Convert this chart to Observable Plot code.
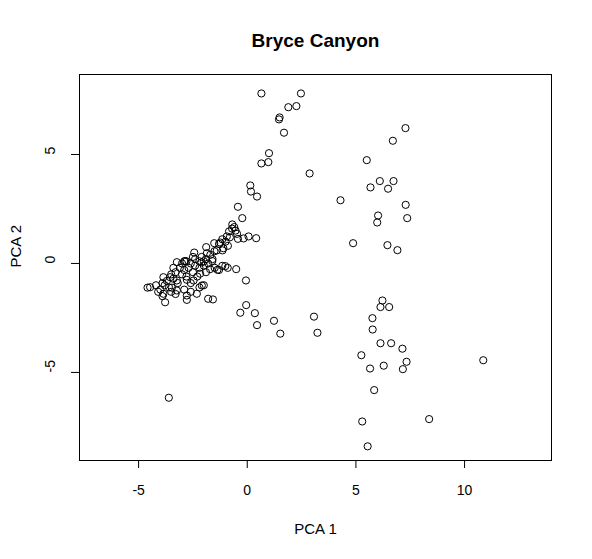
<!DOCTYPE html>
<html>
<head>
<meta charset="utf-8">
<script src="https://cdn.jsdelivr.net/npm/d3@7"></script>
<script src="https://cdn.jsdelivr.net/npm/@observablehq/plot@0.6"></script>
<style>
  html, body { margin: 0; padding: 0; background: #fff; }
  svg { font-family: "Liberation Sans", Arial, Helvetica, sans-serif; }
</style>
</head>
<body>
<div id="chart"></div>
<script>
const title = "Bryce Canyon";
const xLabel = "PCA 1";
const yLabel = "PCA 2";
const xTicks = [-5, 0, 5, 10];
const yTicks = [-5, 0, 5];
const xDomain = [-7.72, 14.0];
const yDomain = [-9.04, 8.67];

// PCA 1 scores
const pca1 = [
  // upper arm
  0.65, 2.47, 1.89, 2.26, 1.49, 1.46, 1.69, 1.00, 0.97, 0.65, 2.87, 0.14, 0.17, 0.45, -0.23, -0.43,
  // right upper group
  7.28, 6.70, 5.50, 5.67, 6.10, 6.73, 6.48, 4.29, 7.29, 6.02, 5.98, 7.36, 4.87, 6.45, 6.91,
  // lower middle
  -0.06, -0.05, -0.32, 0.35, 0.45, 1.23, 1.52, 3.07, 3.23,
  // right lower group
  6.22, 6.13, 6.53, 5.76, 5.77, 6.13, 6.62, 7.14, 5.25, 7.33, 6.28, 5.65, 7.16, 10.86, 5.84, 5.29, 8.37, 5.54, -3.61,
  // main band (edges)
  -0.69, -0.60, -0.54, -0.47, -0.84, -0.94, 0.06, 0.41, -0.17, -0.43, -1.15, -1.24, -1.52, -0.89, -1.14, -1.51,
  -1.89, -1.86, -2.44, -2.11, -1.61, -3.24, -2.86, -1.15, -1.01, -1.37, -0.51, -1.71, -2.17, -2.47, -2.78, -3.24,
  -3.55, -3.86, -4.47, -4.59, -3.86, -3.47, -3.24, -2.78, -2.32, -2.09, -1.80, -1.58, -3.78, -2.78,
  // main band (dense interior)
  -4.2, -4.0, -3.9, -3.8, -3.7, -3.6, -3.5, -3.4, -3.3, -3.2, -3.1, -3.0, -3.0, -2.9, -2.8, -2.8, -2.7, -2.6,
  -2.6, -2.5, -2.4, -2.4, -2.3, -2.2, -2.2, -2.1, -2.0, -2.0, -1.9, -1.8, -1.7, -1.6, -1.4, -1.3, -1.0, -0.8,
  -0.7, -1.1, -3.5, -3.3, -4.1, -3.9, -2.9, -2.6, -2.2, -2.0, -1.9, -1.3, -0.9, -3.4, -2.9, -2.5, -1.5
];
// PCA 2 scores
const pca2 = [
  7.80, 7.80, 7.17, 7.22, 6.70, 6.61, 6.00, 5.06, 4.65, 4.59, 4.13, 3.58, 3.30, 3.07, 2.08, 2.60,
  6.21, 5.63, 4.74, 3.49, 3.78, 3.78, 3.43, 2.90, 2.69, 2.20, 1.88, 2.08, 0.93, 0.84, 0.61,
  -0.78, -1.91, -2.26, -2.28, -2.83, -2.63, -3.22, -2.44, -3.18,
  -1.70, -2.00, -2.00, -2.51, -3.03, -3.66, -3.66, -3.91, -4.21, -4.51, -4.69, -4.82, -4.85, -4.44, -5.81, -7.25, -7.14, -8.39, -6.16,
  1.79, 1.67, 1.51, 1.36, 1.47, 1.24, 1.24, 1.16, 1.15, 1.13, 1.11, 0.96, 0.93, 0.81, 0.60, 0.56,
  0.75, 0.47, 0.50, 0.05, 0.11, 0.06, 0.11, -0.11, -0.12, -0.29, -0.26, -0.26, -0.47, -0.78, -0.75, -0.78,
  -0.63, -0.63, -1.09, -1.11, -1.39, -1.11, -1.24, -1.47, -1.39, -1.01, -1.62, -1.65, -1.78, -1.67,
  -1.0, -1.2, -0.9, -1.0, -0.8, -1.1, -0.5, -0.7, -0.4, -0.9, -0.2, -0.5, 0.0, -0.3, 0.1, -0.6, -0.2, 0.0,
  -0.9, -0.4, 0.2, -0.1, -0.6, 0.1, -0.2, 0.3, -0.1, 0.1, 0.2, 0.0, 0.4, 0.2, 0.6, 0.9, 1.0, 1.2,
  1.6, 0.7, -1.3, -1.4, -1.3, -1.5, -1.2, -1.3, -1.1, -1.0, -0.4, -0.3, -0.2, -0.2, 0.1, 0.3, -0.2
];

const points = pca1.map((x, i) => ({x, y: pca2[i]}));
const font = "'Liberation Sans', Arial, Helvetica, sans-serif";

const chart = Plot.plot({
  width: 592,
  height: 559,
  marginLeft: 79,
  marginRight: 41,
  marginTop: 74,
  marginBottom: 99,
  style: {fontFamily: font, fontSize: "14px", color: "black", background: "white"},
  x: {domain: xDomain},
  y: {domain: yDomain},
  marks: [
    Plot.frame({stroke: "black", strokeWidth: 1}),
    Plot.axisX({ticks: xTicks, tickSize: 8, tickPadding: 17, label: null, fontSize: 14, fill: "black", stroke: "black", tickFormat: d => String(d)}),
    Plot.axisY({ticks: yTicks, tickSize: 8, label: null, stroke: "black", tickFormat: () => ""}),
    Plot.text(yTicks, {y: d => d, frameAnchor: "left", dx: -29, rotate: -90, text: d => String(d), fontSize: 14, fill: "black"}),
    Plot.dot(points, {x: "x", y: "y", r: 3.6, stroke: "black", strokeWidth: 1, fill: "none"}),
    Plot.text([title], {frameAnchor: "top", lineAnchor: "middle", dy: -34, text: d => d, fontSize: 19, fontWeight: "bold", fill: "black"}),
    Plot.text([xLabel], {frameAnchor: "bottom", lineAnchor: "middle", dy: 69, text: d => d, fontSize: 15, fill: "black"}),
    Plot.text([yLabel], {frameAnchor: "left", dx: -63, rotate: -90, text: d => d, fontSize: 15, fill: "black"})
  ]
});
document.getElementById("chart").appendChild(chart);
</script>
</body>
</html>
